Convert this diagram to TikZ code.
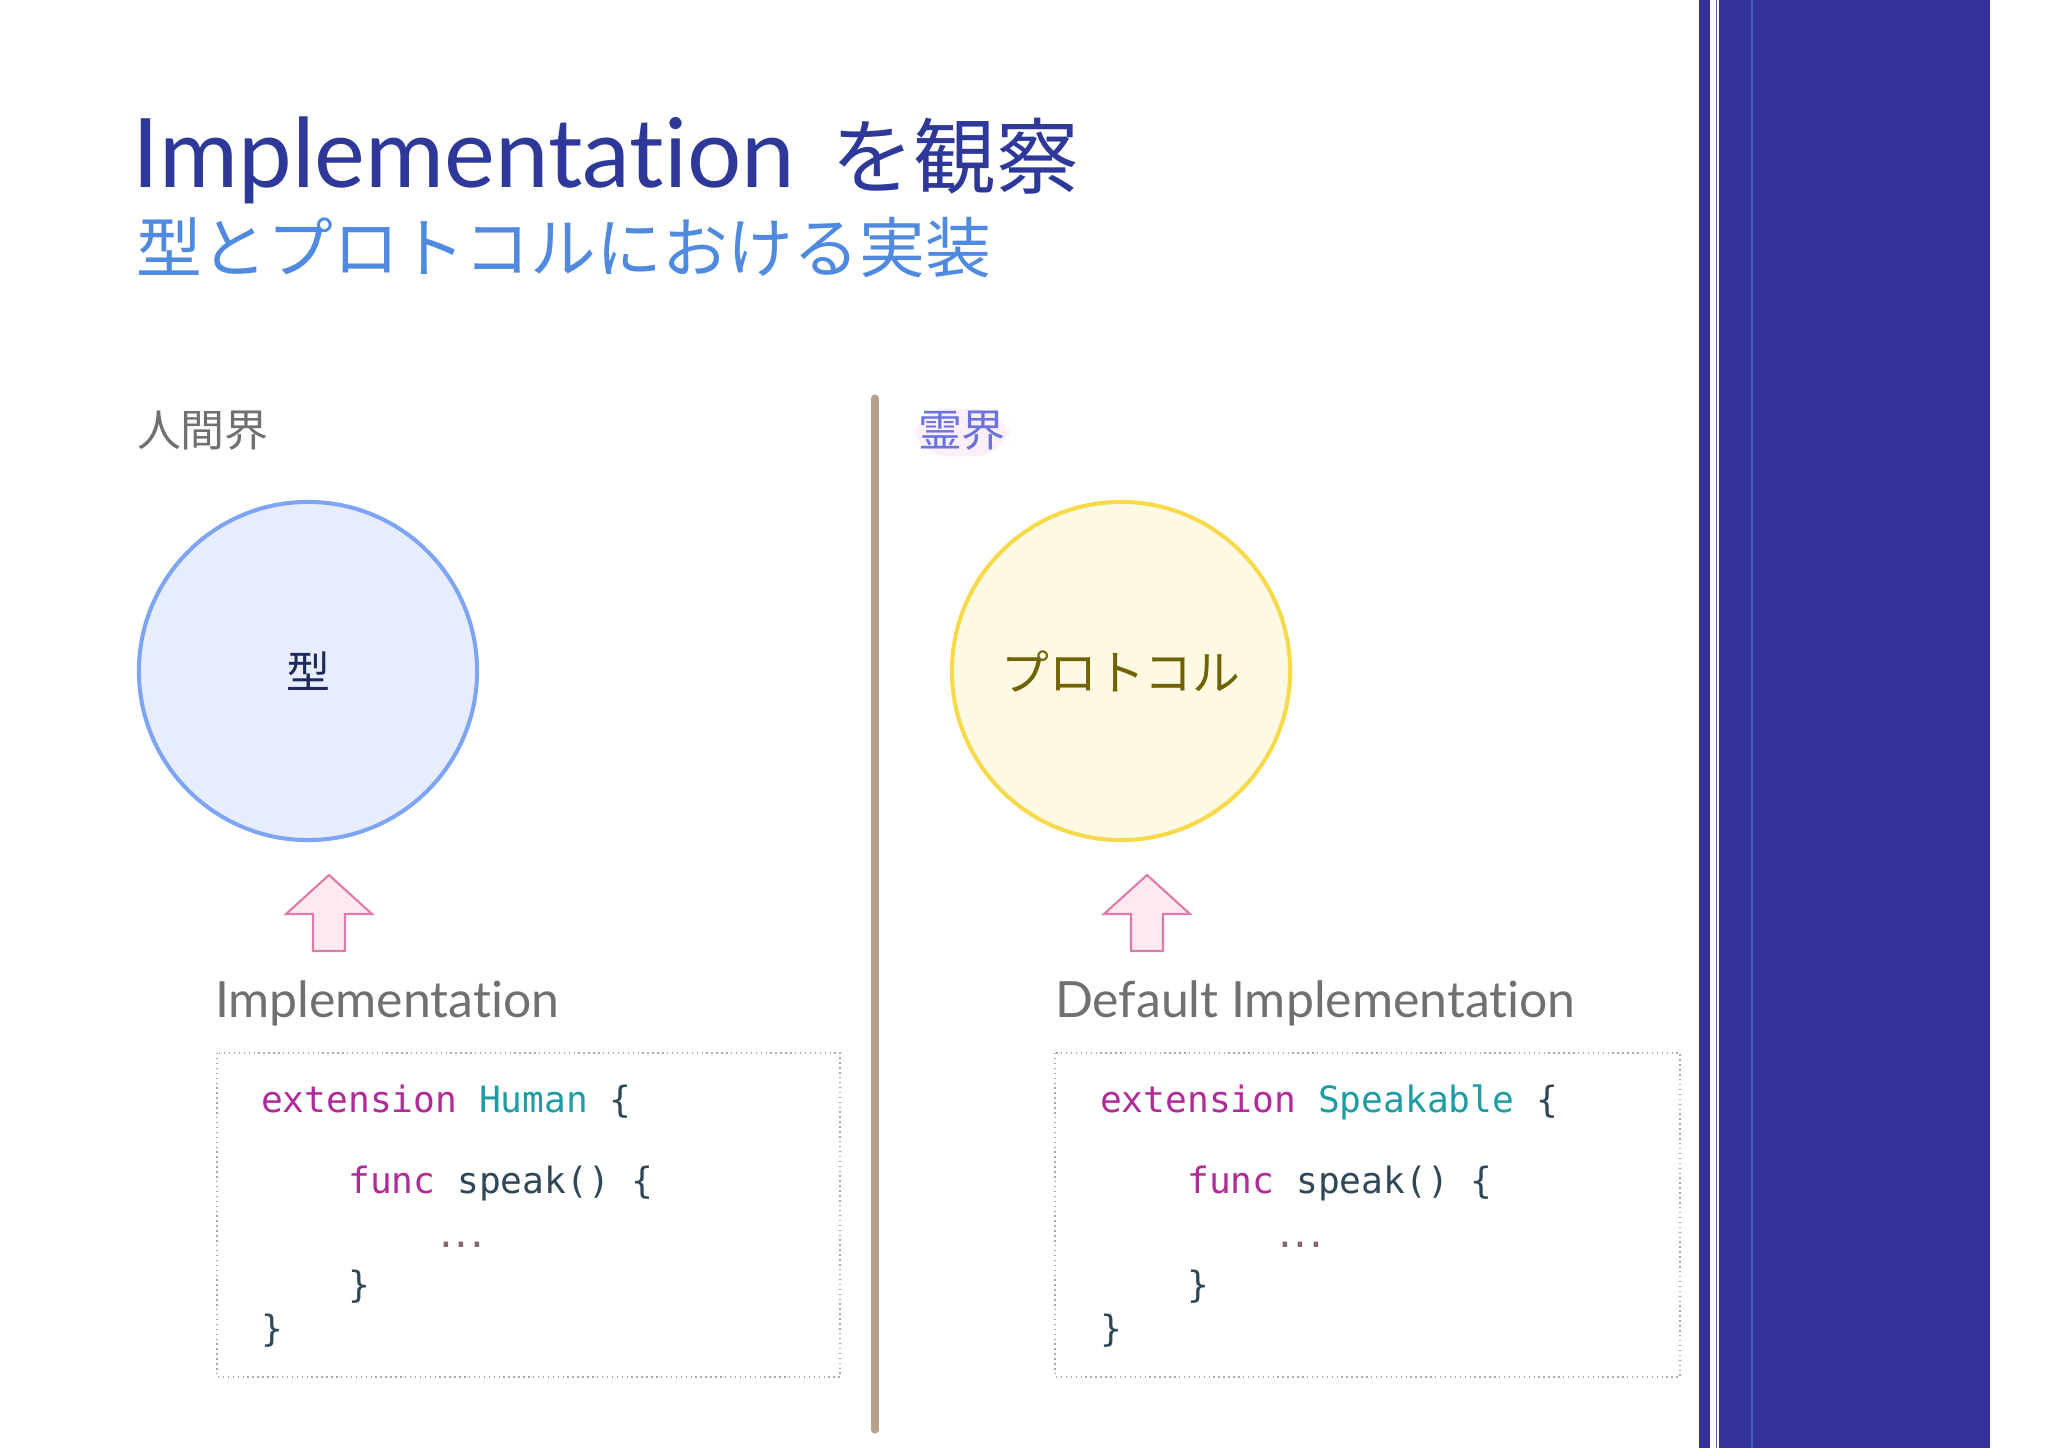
\documentclass[tikz,border=0pt]{standalone}
\usepackage{fontspec}
\setmainfont{Lato}[Ligatures={NoCommon,NoDiscretionary,NoRare}]
\newfontfamily\cjk{Noto Sans CJK JP}
\newfontfamily\codefont{DejaVu Sans Mono}
\usetikzlibrary{shapes.geometric}
\definecolor{panel}{HTML}{353399}
\definecolor{panelline}{HTML}{3F63C8}
\definecolor{titleblue}{HTML}{2D3899}
\definecolor{subblue}{HTML}{4F8AE0}
\definecolor{graytext}{HTML}{707070}
\definecolor{reiblue}{HTML}{6B73DE}
\definecolor{reiglow}{HTML}{FDEFFA}
\definecolor{divider}{HTML}{B8A08E}
\definecolor{bluefill}{HTML}{E7EDFD}
\definecolor{blueline}{HTML}{7EA5F4}
\definecolor{yelfill}{HTML}{FEF9E3}
\definecolor{yelline}{HTML}{F7D94A}
\definecolor{navytext}{HTML}{1D2B5C}
\definecolor{olivetext}{HTML}{6F6300}
\definecolor{pinkfill}{HTML}{FDE9EF}
\definecolor{pinkline}{HTML}{E07AAA}
\definecolor{kw}{HTML}{B02A98}
\definecolor{typ}{HTML}{1E9CA2}
\definecolor{plain}{HTML}{2F4858}
\definecolor{dots}{HTML}{8A6668}
\definecolor{boxline}{HTML}{A8A8A8}
\newcommand{\tightdots}{\textcolor{dots}{.\kern-0.18em.\kern-0.18em.}}
\tikzset{
  txt/.style={inner sep=0pt, outer sep=0pt},
  world/.style={txt, anchor=west, font=\cjk\fontsize{12.5pt}{14pt}\selectfont},
  bubble/.style={circle, minimum size=33.8mm, inner sep=0pt, line width=1.15pt},
  uparrow/.style={fill=pinkfill, draw=pinkline, line width=0.6pt, line join=miter},
  caption/.style={txt, anchor=west, text=graytext, font=\fontsize{14.2pt}{16pt}\selectfont},
  codebox/.style={draw=boxline, densely dotted, line width=0.4pt},
  code/.style={txt, anchor=mid west, text=plain, font=\codefont\fontsize{10.3pt}{12pt}\selectfont},
}
\begin{document}
\begin{tikzpicture}[x=0.01cm, y=-0.01cm]
\useasboundingbox (0,0) rectangle (2048,1448);
\fill[white] (0,0) rectangle (2048,1448);

% right panel
\fill[panel] (1699,0) rectangle (1710,1448);
\fill[panel!80] (1715.5,0) rectangle (1717,1448);
\fill[panel] (1719,0) rectangle (1990,1448);
\fill[panelline] (1751,0) rectangle (1753,1448);

% title
\node[txt, anchor=base west, text=titleblue, font=\fontsize{27.3pt}{30pt}\selectfont] (title) at (133,187)
  {Implementation\hspace{0.38em}{\cjk\fontsize{23.5pt}{28pt}\selectfont を観察}};
\node[txt, anchor=west, text=subblue, font=\cjk\fontsize{18.7pt}{22pt}\selectfont] (subtitle) at (136,248)
  {型とプロトコルにおける実装};

% world labels
\node[world, text=graytext] (human) at (137,431) {人間界};
\fill[reiglow, rounded corners=10] (913,409) rectangle (1010,456);
\node[world, text=reiblue] (rei) at (918,431) {霊界};

% divider
\draw[divider, line width=2pt, line cap=round] (875,398) -- (875,1430);

% circles
\node[bubble, fill=bluefill, draw=blueline] (type) at (308,671) {};
\node[txt, text=navytext, font=\cjk\fontsize{12.5pt}{14pt}\selectfont] (typelabel) at (308,671) {型};
\node[bubble, fill=yelfill, draw=yelline] (proto) at (1121,671) {};
\node[txt, text=olivetext, font=\cjk\fontsize{13.6pt}{16pt}\selectfont] (protolabel) at (1121,671) {プロトコル};

% arrows
\draw[uparrow] (329,875) -- (372,914) -- (345,914) -- (345,951) -- (313,951) -- (313,914) -- (286,914) -- cycle;
\draw[uparrow] (1147,875) -- (1190,914) -- (1163,914) -- (1163,951) -- (1131,951) -- (1131,914) -- (1104,914) -- cycle;

% captions
\node[caption] (impl) at (215,1003) {Implementation};
\node[caption] (defimpl) at (1055,1003) {Default Implementation};

% code boxes
\draw[codebox] (217,1053) rectangle (840,1377);
\draw[codebox] (1055,1053) rectangle (1680,1377);

\node[code] (l1) at (261,1104) {\textcolor{kw}{extension} \textcolor{typ}{Human} \{};
\node[code] (l2) at (261,1185) {\phantom{xxxx}\textcolor{kw}{func} speak() \{};
\node[code, anchor=base west] (l3) at (261,1247) {\phantom{xxxxxxxx}\tightdots};
\node[code] (l4) at (261,1289) {\phantom{xxxx}\}};
\node[code] (l5) at (261,1333) {\}};

\node[code] (r1) at (1100,1104) {\textcolor{kw}{extension} \textcolor{typ}{Speakable} \{};
\node[code] (r2) at (1100,1185) {\phantom{xxxx}\textcolor{kw}{func} speak() \{};
\node[code, anchor=base west] (r3) at (1100,1247) {\phantom{xxxxxxxx}\tightdots};
\node[code] (r4) at (1100,1289) {\phantom{xxxx}\}};
\node[code] (r5) at (1100,1333) {\}};
\end{tikzpicture}
\end{document}
